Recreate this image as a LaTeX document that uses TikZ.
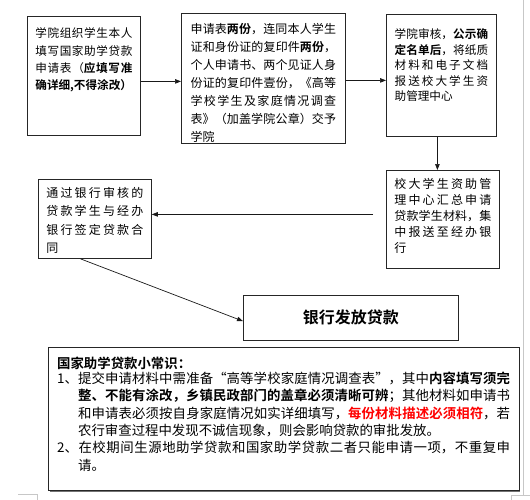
\documentclass[tikz,border=0pt]{standalone}
\usepackage{fontspec}
\setmainfont{Noto Sans CJK SC}[BoldFont={Noto Sans CJK SC Bold}]
\usetikzlibrary{arrows.meta,shadows}
\XeTeXlinebreaklocale "zh"
\XeTeXlinebreakskip=0pt plus 2pt
\tolerance=10000
\hbadness=10000
\newcommand\btxt[6]{\parbox[c][#1][t]{#2}{\fontsize{#3}{#4}\selectfont\rule{0pt}{#5}#6}}
\tikzset{
  box/.style={draw=black!85, line width=0.8pt, anchor=north west, inner ysep=0pt, fill=white},
  arr/.style={-{Triangle[length=6pt,width=4.5pt]}, line width=0.7pt, draw=black!90},
  edge/.style={draw=black!22, line width=0.6pt}
}
\begin{document}
\begin{tikzpicture}[x=1pt,y=-1pt]
\fill[white] (0,0) rectangle (530,500);
\useasboundingbox (0,0) rectangle (530,500);
% page edge marks
\draw[edge] (523,0) -- (523,495);
\draw[edge] (18,494) -- (37,494) -- (37,500);
\draw[edge] (530,495) -- (511,495) -- (511,500);

\node[box, inner xsep=8pt] (b1) at (27,16)
  {\btxt{119pt}{97pt}{11.6pt}{17.2pt}{21.6pt}{学院组织学生本人\linebreak 填写国家助学贷款\linebreak 申请表（\textbf{应填写准\linebreak 确详细,不得涂改）}}};
\node[box, inner xsep=9.25pt] (b2) at (181,13)
  {\btxt{130pt}{145.5pt}{12pt}{18pt}{20pt}{申请表\textbf{两份}，连同本人学生\linebreak 证和身份证的复印件\textbf{两份}，\linebreak 个人申请书、两个见证人身\linebreak 份证的复印件壹份，《高等\linebreak 学校学生及家庭情况调查\linebreak 表》（加盖学院公章）交予\linebreak 学院}};
\node[box, inner xsep=8.25pt] (b3) at (386,14)
  {\btxt{122pt}{93.5pt}{11.6pt}{15.5pt}{24.6pt}{学院审核，\textbf{公示确\linebreak 定名单后}，将纸质\linebreak 材料和电子文档\linebreak 报送校大学生资\linebreak 助管理中心}};
\node[box, inner xsep=8pt] (b4) at (386,170)
  {\btxt{98pt}{97pt}{12pt}{16pt}{17.8pt}{校大学生资助管\linebreak 理中心汇总申请\linebreak 贷款学生材料，集\linebreak 中报送至经办银\linebreak 行}};
\node[box, inner xsep=8pt] (b5) at (38,179)
  {\btxt{79pt}{97pt}{12pt}{18.3pt}{18.2pt}{通过银行审核的\linebreak 贷款学生与经办\linebreak 银行签定贷款合\linebreak 同}};
\node[box, minimum width=215pt, minimum height=45.5pt, font=\fontsize{16pt}{18pt}\selectfont\bfseries] (b6) at (243,294.5) {银行发放贷款};
\node[box, inner xsep=8.75pt, drop shadow={shadow xshift=1.2pt, shadow yshift=-1.2pt, fill=black!55, opacity=1}] (b7) at (48,347)
  {\btxt{143pt}{453pt}{13.4pt}{17.4pt}{21pt}{\textbf{国家助学贷款小常识：}\par\vspace{-2.5pt}%
\hangindent=21pt\hangafter=1 1、提交申请材料中需准备“高等学校家庭情况调查表”，其中\textbf{内容填写须完\linebreak 整、不能有涂改，乡镇民政部门的盖章必须清晰可辨}；其他材料如申请书\linebreak 和申请表必须按自身家庭情况如实详细填写，\textbf{\textcolor{red}{每份材料描述必须相符}}，若\linebreak 农行审查过程中发现不诚信现象，则会影响贷款的审批发放。\par
\hangindent=21pt\hangafter=1 2、在校期间生源地助学贷款和国家助学贷款二者只能申请一项，不重复申\linebreak 请。}};

% connectors
\draw[arr] ([yshift=-5.5pt]b1.east) -- ([yshift=-5.5pt]b1.east -| b2.west);
\draw[arr] ([yshift=-2pt]b2.east) -- ([yshift=-2pt]b2.east -| b3.west);
\draw[arr] ([xshift=-4pt]b3.south) -- ([xshift=-4pt]b3.south |- b4.north);
\draw[arr, shorten <=13pt] ([yshift=5pt]b4.west) -- ([yshift=5pt]b4.west -| b5.east);
\draw[arr] ([xshift=-14.5pt]b5.south) -- ([yshift=-3.5pt]b6.west);
\end{tikzpicture}
\end{document}
